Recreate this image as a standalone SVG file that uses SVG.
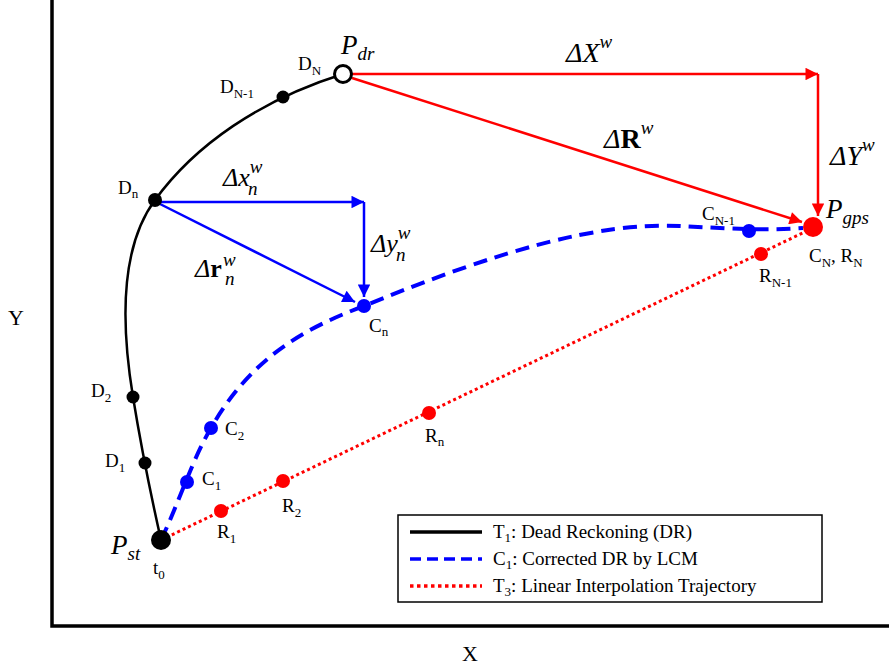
<svg xmlns="http://www.w3.org/2000/svg" width="889" height="667" viewBox="0 0 889 667" font-family="'Liberation Serif', 'DejaVu Serif', serif">
<style>
text{font-family:"Liberation Serif","DejaVu Serif",serif;fill:#000}
.lbl{font-size:19px}
.sub{font-size:13px}
.big{font-size:28px;font-style:italic}
.sup{font-size:19px;font-style:italic}
.mid{font-size:27px;font-style:italic}
.leg{font-size:19px}
</style>
<defs>
<marker id="ar" viewBox="0 0 10 10" refX="10" refY="5" markerWidth="6" markerHeight="5" markerUnits="strokeWidth" orient="auto"><path d="M0,0 L10,5 L0,10 z" fill="#ff0000"/></marker>
<marker id="ab" viewBox="0 0 10 10" refX="10" refY="5" markerWidth="6" markerHeight="5" markerUnits="strokeWidth" orient="auto"><path d="M0,0 L10,5 L0,10 z" fill="#0000ff"/></marker>
</defs>
<g id="axes" fill="none" stroke="#000" stroke-width="3.5">
<path d="M52,0 L52,626 L889,626"/>
</g>
<text x="8" y="325" style="font-size:22px">Y</text>
<text x="462" y="661" style="font-size:22px">X</text>
<g id="connectors" fill="none">
<path id="dr" d="M161,540 C152,500 140,440 133,397 C122,330 118,250 155,200 C195,145 260,100 343,74" stroke="#000" stroke-width="2.5"/>
<path id="lcm" d="M161,540 C178,505 192,460 211,428 C250,360 300,330 364,306 C500,250 600,222 680,226 C720,228 760,231 803,228" stroke="#0000ff" stroke-width="4" stroke-dasharray="14,8"/>
<path id="lin" d="M161,540 L813,228" stroke="#ff0000" stroke-width="3" stroke-dasharray="3,3"/>
<path d="M352,74 L818,74" stroke="#ff0000" stroke-width="2.5" marker-end="url(#ar)"/>
<path d="M818,74 L818,216" stroke="#ff0000" stroke-width="2.5" marker-end="url(#ar)"/>
<path d="M352,78 L802,222" stroke="#ff0000" stroke-width="2.5" marker-end="url(#ar)"/>
<path d="M160,202 L364,202" stroke="#0000ff" stroke-width="2.5" marker-end="url(#ab)"/>
<path d="M364,202 L364,297" stroke="#0000ff" stroke-width="2.5" marker-end="url(#ab)"/>
<path d="M160,204 L355,302" stroke="#0000ff" stroke-width="2.5" marker-end="url(#ab)"/>
</g>
<g id="Pst"><circle cx="161" cy="540" r="10" fill="#000"/>
<text x="111" y="554" class="mid">P<tspan dy="6" style="font-size:19px">st</tspan></text>
<text x="153" y="574" class="lbl">t<tspan dy="5" class="sub">0</tspan></text></g>
<g id="D1"><circle cx="145" cy="463" r="6.5" fill="#000"/><text x="105" y="467" class="lbl">D<tspan dy="5" class="sub">1</tspan></text></g>
<g id="D2"><circle cx="133" cy="397" r="6.5" fill="#000"/><text x="91" y="397" class="lbl">D<tspan dy="5" class="sub">2</tspan></text></g>
<g id="Dn"><circle cx="155" cy="200" r="7" fill="#000"/><text x="118" y="194" class="lbl">D<tspan dy="4" class="sub">n</tspan></text></g>
<g id="DN1"><circle cx="283" cy="97" r="6.5" fill="#000"/><text x="220" y="93" class="lbl">D<tspan dy="5" class="sub">N-1</tspan></text></g>
<g id="DN"><circle cx="343" cy="74" r="8.5" fill="#fff" stroke="#000" stroke-width="3"/><text x="298" y="70" class="lbl">D<tspan dy="5" class="sub">N</tspan></text>
<text x="341" y="54" class="mid">P<tspan dy="6" style="font-size:19px">dr</tspan></text></g>
<g id="C1"><circle cx="187" cy="482" r="7" fill="#0000ff"/><text x="202" y="485" class="lbl">C<tspan dy="5" class="sub">1</tspan></text></g>
<g id="C2"><circle cx="211" cy="428" r="7" fill="#0000ff"/><text x="225" y="435" class="lbl">C<tspan dy="5" class="sub">2</tspan></text></g>
<g id="Cn"><circle cx="364" cy="306" r="7" fill="#0000ff"/><text x="369" y="332" class="lbl">C<tspan dy="4" class="sub">n</tspan></text></g>
<g id="CN1"><circle cx="749" cy="231" r="7" fill="#0000ff"/><text x="702" y="220" class="lbl">C<tspan dy="5" class="sub">N-1</tspan></text></g>
<g id="R1"><circle cx="221" cy="511" r="7" fill="#ff0000"/><text x="217" y="538" class="lbl">R<tspan dy="5" class="sub">1</tspan></text></g>
<g id="R2"><circle cx="283" cy="481" r="7" fill="#ff0000"/><text x="282" y="512" class="lbl">R<tspan dy="5" class="sub">2</tspan></text></g>
<g id="Rn"><circle cx="429" cy="413" r="7" fill="#ff0000"/><text x="425" y="442" class="lbl">R<tspan dy="4" class="sub">n</tspan></text></g>
<g id="RN1"><circle cx="761" cy="254" r="7" fill="#ff0000"/><text x="759" y="282" class="lbl">R<tspan dy="5" class="sub">N-1</tspan></text></g>
<g id="Pgps"><circle cx="813" cy="227" r="10" fill="#ff0000"/>
<text x="826" y="218" class="mid">P<tspan dy="6" style="font-size:19px">gps</tspan></text>
<text x="809" y="262" class="lbl">C<tspan dy="5" class="sub">N</tspan><tspan dy="-5">, R</tspan><tspan dy="5" class="sub">N</tspan></text></g>
<g id="labels">
<text x="566" y="62" class="big">ΔX<tspan dy="-14" class="sup">w</tspan></text>
<text x="604" y="148" style="font-size:28px"><tspan font-style="italic">Δ</tspan><tspan font-weight="bold">R</tspan><tspan dy="-14" class="sup">w</tspan></text>
<text x="830" y="165" class="big">ΔY<tspan dy="-14" class="sup">w</tspan></text>
<text x="223" y="186" class="big" style="font-size:26px">Δx<tspan dy="-13" class="sup">w</tspan><tspan x="248" dy="22" class="sup">n</tspan></text>
<text x="371" y="252" class="big" style="font-size:26px">Δy<tspan dy="-13" class="sup">w</tspan><tspan x="396" dy="22" class="sup">n</tspan></text>
<text x="195" y="277" style="font-size:26px"><tspan font-style="italic">Δ</tspan><tspan font-weight="bold">r</tspan><tspan x="223" dy="-11" class="sup">w</tspan><tspan x="225" dy="19" class="sup">n</tspan></text>
</g>
<g id="legend">
<rect x="398" y="515" width="424" height="87" fill="#fff" stroke="#000" stroke-width="1.5"/>
<path d="M410,532 L482,532" stroke="#000" stroke-width="3.5"/>
<path d="M410,559 L482,559" stroke="#0000ff" stroke-width="3.5" stroke-dasharray="11,6"/>
<path d="M410,586 L482,586" stroke="#ff0000" stroke-width="3.5" stroke-dasharray="3.5,3.5"/>
<text x="493" y="538" class="leg">T<tspan dy="4" class="sub">1</tspan><tspan dy="-4">: Dead Reckoning (DR)</tspan></text>
<text x="493" y="565" class="leg">C<tspan dy="4" class="sub">1</tspan><tspan dy="-4">: Corrected DR by LCM</tspan></text>
<text x="493" y="592" class="leg">T<tspan dy="4" class="sub">3</tspan><tspan dy="-4">: Linear Interpolation Trajectory</tspan></text>
</g>
</svg>
